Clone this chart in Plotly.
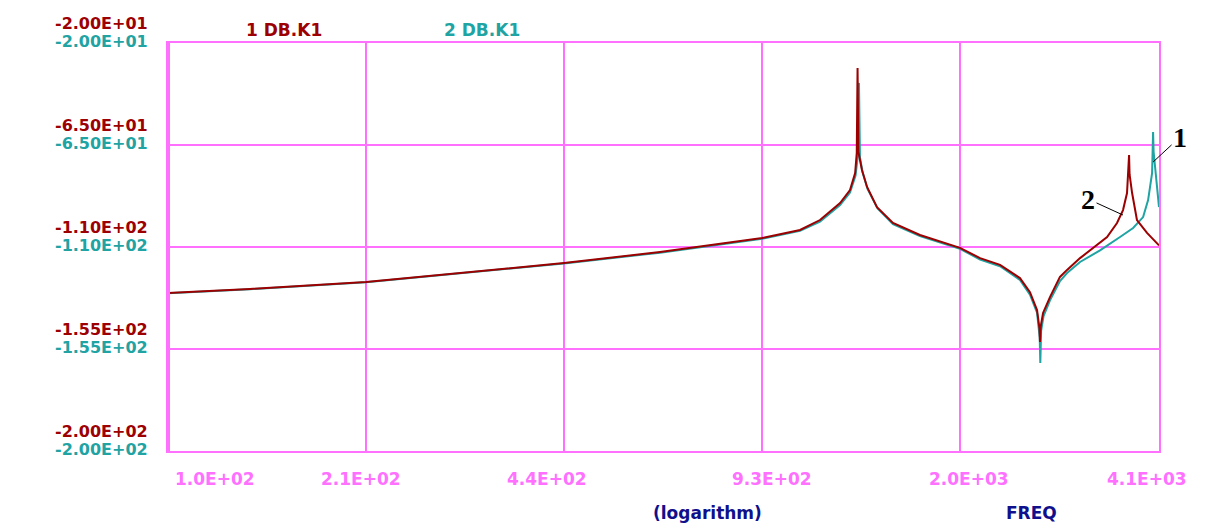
import math
import plotly.graph_objects as go

# ---------------- data ----------------
freq_1 = [100, 136, 210, 300, 441, 632, 791, 927, 1068, 1151,
          1241, 1288, 1313, 1321, 1325, 1329, 1347, 1373, 1425, 1513,
          1674, 1945, 2097, 2260, 2435, 2528, 2596, 2620, 2625, 2632,
          2655, 2725, 2829, 2905, 3050, 3287, 3375, 3503, 3583, 3637,
          3660, 3665, 3672, 3707, 3775, 3920, 4100]
db_1 = [-130.3, -128.5, -125.4, -121.4, -117.1, -112.2, -108.7, -106.0, -102.5, -98.1,
        -90.6, -84.9, -77.4, -68.5, -31.0, -68.0, -76.0, -83.5, -92.4, -99.4,
        -104.7, -110.4, -114.9, -117.9, -123.7, -129.9, -137.8, -146.0, -151.9, -145.0,
        -139.1, -132.1, -123.2, -120.1, -114.9, -107.8, -105.6, -99.4, -93.7, -86.2,
        -75.0, -69.4, -78.0, -86.2, -98.1, -103.8, -109.3]

freq_2 = [100, 136, 210, 300, 441, 632, 791, 927, 1068, 1151,
          1241, 1288, 1315, 1326, 1332, 1337, 1350, 1376, 1428, 1513,
          1674, 1945, 2097, 2260, 2435, 2528, 2596, 2622, 2628, 2636,
          2660, 2725, 2829, 2905, 3050, 3287, 3543, 3721, 3863, 3936,
          3995, 4003, 4010, 4018, 4040, 4100]
db_2 = [-130.4, -128.6, -125.5, -121.6, -117.3, -112.5, -109.0, -106.4, -102.9, -98.8,
        -91.5, -86.0, -78.5, -70.0, -37.6, -70.5, -77.0, -84.5, -93.0, -99.9,
        -105.2, -110.8, -115.5, -118.5, -124.5, -131.0, -139.0, -150.0, -161.2, -147.0,
        -140.5, -133.5, -125.0, -121.5, -116.6, -111.5, -105.6, -101.6, -96.8, -89.3,
        -77.4, -67.0, -59.3, -68.0, -74.7, -92.4]

x_tick_values = [100, 210.1, 441.4, 927.4, 1948.4, 4100]
x_tick_labels = ["1.0E+02", "2.1E+02", "4.4E+02", "9.3E+02", "2.0E+03", "4.1E+03"]
y_tick_values = [-20, -65, -110, -155, -200]
y_tick_labels = ["-2.00E+01", "-6.50E+01", "-1.10E+02", "-1.55E+02", "-2.00E+02"]

series_names = ["1 DB.K1", "2 DB.K1"]

# ---------------- style ----------------
RED = "#9C0000"
TEAL = "#1FA3A3"
MAG = "#FF70FF"
NAVY = "#10108C"
TICKFONT = "DejaVu Sans, sans-serif"
FS = 16

fig = go.Figure()
fig.add_trace(go.Scatter(x=freq_2, y=db_2, mode="lines", name=series_names[1],
                         line=dict(color=TEAL, width=2)))
fig.add_trace(go.Scatter(x=freq_1, y=db_1, mode="lines", name=series_names[0],
                         line=dict(color=RED, width=2)))

ann = []
# y tick labels, two rows per tick (series 1 red, series 2 teal)
for v, t in zip(y_tick_values, y_tick_labels):
    ann.append(dict(x=0, xref="paper", y=v, yref="y", text=t, showarrow=False,
                    xanchor="right", yanchor="middle", xshift=-18, yshift=20,
                    font=dict(family=TICKFONT, size=FS, color=RED, weight="bold")))
    ann.append(dict(x=0, xref="paper", y=v, yref="y", text=t, showarrow=False,
                    xanchor="right", yanchor="middle", xshift=-18, yshift=2,
                    font=dict(family=TICKFONT, size=FS, color=TEAL, weight="bold")))

# x tick labels
x_shifts = [47, -5, -17, 10, 9, -12]
for v, t, s in zip(x_tick_values, x_tick_labels, x_shifts):
    ann.append(dict(x=math.log10(v), xref="x", y=0, yref="paper", text=t, showarrow=False,
                    xanchor="center", yanchor="middle", xshift=s, yshift=-28,
                    font=dict(family=TICKFONT, size=FS + 1, color=MAG, weight="bold")))

# legend-like headers
ann.append(dict(x=0.117, xref="paper", y=1.032, yref="paper", text=series_names[0],
                showarrow=False, xanchor="center", yanchor="middle",
                font=dict(family=TICKFONT, size=FS + 1, color=RED, weight="bold")))
ann.append(dict(x=0.317, xref="paper", y=1.032, yref="paper", text=series_names[1],
                showarrow=False, xanchor="center", yanchor="middle",
                font=dict(family=TICKFONT, size=FS + 1, color=TEAL, weight="bold")))

# axis captions
ann.append(dict(x=0.544, xref="paper", y=-0.152, yref="paper", text="(logarithm)",
                showarrow=False, xanchor="center", yanchor="middle",
                font=dict(family=TICKFONT, size=FS + 1, color=NAVY, weight="bold")))
ann.append(dict(x=0.871, xref="paper", y=-0.152, yref="paper", text="FREQ",
                showarrow=False, xanchor="center", yanchor="middle",
                font=dict(family=TICKFONT, size=FS + 1, color=NAVY, weight="bold")))

# curve callouts
ann.append(dict(x=math.log10(3583), xref="x", y=-95.9, yref="y", text="2",
                showarrow=True, arrowhead=0, arrowwidth=1, arrowcolor="black",
                ax=-35, ay=-16,
                font=dict(family="Liberation Serif, serif", size=28, color="black", weight="bold")))
ann.append(dict(x=math.log10(4010), xref="x", y=-72.5, yref="y", text="1",
                showarrow=True, arrowhead=0, arrowwidth=1, arrowcolor="black",
                ax=27, ay=-25,
                font=dict(family="Liberation Serif, serif", size=28, color="black", weight="bold")))

fig.update_layout(
    width=1207, height=524,
    margin=dict(l=168, r=48, t=43, b=73),
    paper_bgcolor="white", plot_bgcolor="white",
    showlegend=False,
    annotations=ann,
    shapes=[dict(type="line", xref="paper", yref="paper", x0=0, x1=0, y0=0, y1=1,
                 line=dict(color=MAG, width=4), layer="above")],
    xaxis=dict(type="log", range=[2, math.log10(4100)], tickvals=x_tick_values,
               showticklabels=False, ticks="", showgrid=True, gridcolor=MAG, gridwidth=2,
               showline=True, linecolor=MAG, linewidth=2, mirror=True, zeroline=False),
    yaxis=dict(range=[-200, -20], tickvals=y_tick_values,
               showticklabels=False, ticks="", showgrid=True, gridcolor=MAG, gridwidth=2,
               showline=True, linecolor=MAG, linewidth=2, mirror=True, zeroline=False),
)

fig.write_html("out.html")
